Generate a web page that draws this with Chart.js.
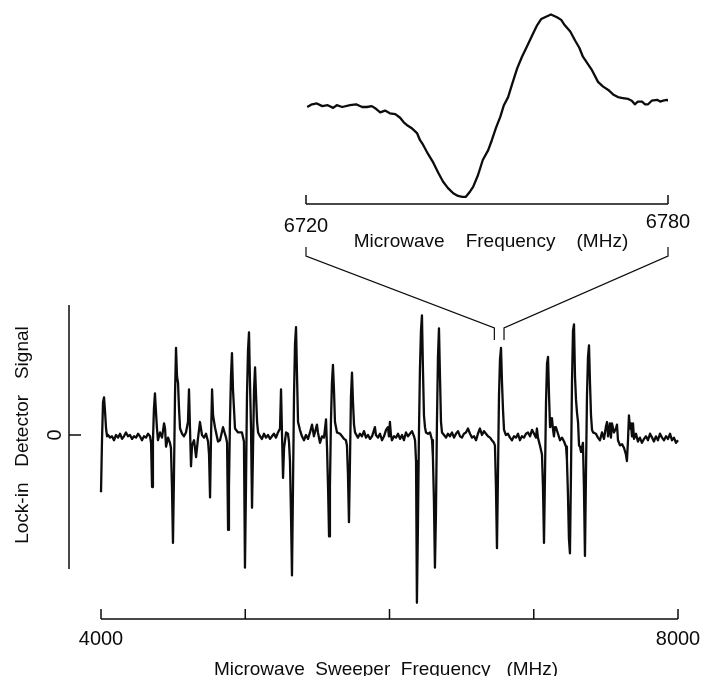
<!DOCTYPE html>
<html lang="en">
<head>
  <meta charset="UTF-8" />
  <title>Lock-in Detector Signal</title>
  <script src="https://cdn.jsdelivr.net/npm/chart.js"></script>
  <style>
    html, body { margin: 0; padding: 0; background: #fff; }
    #wrap { position: relative; width: 701px; height: 676px; }
    #wrap canvas { position: absolute; left: 0; top: 0; }
  </style>
</head>
<body>
<div id="wrap">
  <canvas id="mainChart" width="701" height="676"></canvas>
  <canvas id="zoomChart" width="701" height="260"></canvas>
</div>

<script>
  // sweep 4000-8000 MHz (arbitrary units, 0 = baseline)
  const sweepFreq = [
    4000, 4007, 4014, 4021, 4028, 4035, 4042, 4049, 4062, 4076, 4090, 4104, 4118, 4132, 4146, 4159, 4173, 4187, 4201, 4215,
    4229, 4243, 4257, 4270, 4284, 4298, 4312, 4326, 4340,
    4347, 4354, 4360, 4367, 4374, 4381, 4388, 4395, 4409, 4423, 4437, 4444, 4451, 4465, 4478,
    4485, 4492, 4499, 4506, 4513, 4520, 4527, 4534, 4541, 4548, 4562, 4575, 4589,
    4603, 4610, 4617, 4624, 4631, 4645, 4659, 4672, 4686, 4700, 4714, 4728, 4742,
    4749, 4756, 4763, 4770, 4777, 4790, 4811, 4825, 4846, 4867, 4874,
    4881, 4887, 4894, 4901, 4908, 4915, 4929, 4950, 4977, 4991,
    4998, 5005, 5012, 5019, 5026, 5033, 5040,
    5047, 5054, 5061, 5068, 5075, 5082, 5089, 5102, 5116, 5130, 5144, 5158, 5172, 5185, 5199, 5213, 5227, 5241,
    5248, 5255, 5262, 5269, 5283, 5296, 5303,
    5310, 5317, 5324, 5331, 5338, 5345, 5352, 5359, 5366, 5379, 5393, 5407, 5421, 5435, 5449, 5463, 5476, 5497, 5504,
    5518, 5532, 5546, 5560,
    5567, 5574, 5581, 5587, 5594, 5601, 5608, 5615, 5622, 5636, 5657, 5671, 5685, 5698,
    5705, 5712, 5719, 5726, 5733, 5740, 5747, 5754, 5761, 5781, 5795, 5809, 5823, 5837, 5851, 5865, 5879, 5899, 5906,
    5920, 5934, 5948, 5962, 5976, 5989, 5996, 6003, 6010, 6017, 6031, 6045, 6059, 6073, 6087, 6100, 6114, 6128, 6142,
    6156, 6170, 6177,
    6184, 6190, 6197, 6204, 6211, 6218, 6225, 6232, 6239, 6246, 6253, 6267, 6281, 6295, 6301,
    6308, 6315, 6322, 6329, 6336, 6343, 6350, 6357, 6364, 6378, 6392, 6405, 6419, 6433, 6447, 6461, 6475, 6489, 6502,
    6516, 6530, 6544, 6558, 6572, 6586, 6600, 6613, 6627, 6641, 6655, 6669, 6683, 6697, 6710, 6724, 6731,
    6738, 6745, 6752, 6759, 6766, 6773, 6780, 6787, 6794, 6807, 6821, 6835, 6849, 6863, 6877, 6891, 6904, 6918, 6932,
    6946, 6960, 6974, 6988, 7002, 7015, 7022, 7029, 7043, 7057,
    7064, 7071, 7078, 7085, 7092, 7099, 7106, 7113, 7120, 7126, 7133, 7140, 7147, 7154, 7168, 7182, 7196, 7210, 7224, 7230,
    7237, 7244, 7251, 7258, 7265, 7272, 7279, 7286, 7293, 7300, 7307, 7314, 7321, 7328, 7334, 7341,
    7348, 7355, 7362, 7369, 7376, 7383, 7390, 7397, 7404, 7411, 7431, 7445, 7459, 7473, 7487, 7501, 7508, 7515, 7528,
    7535, 7542, 7556, 7570, 7577, 7584, 7598, 7612, 7626, 7639, 7646, 7653, 7660, 7667, 7674, 7681, 7688, 7695, 7709,
    7722, 7736, 7750, 7764, 7778, 7792, 7806, 7820, 7833, 7847, 7861, 7875, 7889, 7903, 7917, 7931, 7945, 7958, 7972,
    7986, 8000, 8010
  ];
  const sweepSignal = [
    -0.44, -0.04, 0.25, 0.29, 0.18, 0.05, -0.01, 0.00, -0.02, -0.01, -0.04, 0.00, -0.02, 0.01, -0.03, -0.01, 0.02, -0.01, 0.00, -0.03,
    -0.01, -0.02, 0.01, -0.01, -0.04, -0.01, -0.02, 0.01, -0.01,
    -0.06, -0.40, -0.05, 0.20, 0.32, 0.18, 0.05, -0.04, 0.02, -0.02, 0.09, 0.05, -0.09, -0.02, -0.06,
    -0.10, -0.40, -0.83, -0.30, 0.30, 0.67, 0.45, 0.40, 0.20, 0.05, 0.01, -0.01, 0.02,
    0.10, 0.35, 0.05, -0.24, -0.08, -0.04, -0.17, -0.03, 0.10, 0.00, -0.02, 0.01, -0.05,
    -0.15, -0.48, 0.00, 0.35, 0.15, 0.06, -0.05, -0.04, 0.06, -0.02, -0.06,
    -0.73, -0.40, 0.10, 0.45, 0.63, 0.35, 0.05, 0.02, 0.02, -0.05,
    -1.02, -0.40, 0.30, 0.65, 0.79, 0.40, 0.05,
    -0.56, -0.10, 0.35, 0.52, 0.30, 0.10, 0.02, -0.01, -0.03, 0.01, -0.02, 0.00, -0.03, -0.01, 0.01, -0.02, 0.02, 0.05,
    0.35, 0.00, -0.33, -0.10, 0.02, 0.01, -0.05,
    -0.20, -0.60, -1.08, -0.40, 0.30, 0.70, 0.83, 0.45, 0.10, 0.04, -0.01, -0.04, 0.00, -0.03, 0.02, 0.08, -0.01, 0.08, 0.02,
    -0.06, -0.01, -0.02, 0.12,
    -0.10, -0.40, -0.78, -0.40, 0.10, 0.40, 0.54, 0.35, 0.10, 0.02, 0.01, -0.01, -0.03, -0.04,
    -0.08, -0.30, -0.67, -0.20, 0.30, 0.48, 0.25, 0.08, 0.02, -0.02, 0.01, -0.01, 0.03, -0.02, 0.00, -0.03, -0.01, 0.06, 0.00,
    -0.02, 0.01, -0.04, -0.01, 0.04, 0.06, -0.01, 0.10, 0.00, -0.04, -0.01, -0.02, 0.01, -0.03, 0.00, -0.04, 0.02, -0.01, 0.01,
    0.03, -0.01, -0.04,
    -0.20, -1.29, -0.70, 0.00, 0.50, 0.80, 0.92, 0.50, 0.15, 0.06, 0.02, 0.01, 0.02, -0.04, -0.17,
    -0.50, -1.02, -0.60, 0.10, 0.60, 0.82, 0.45, 0.10, 0.02, 0.00, -0.02, 0.01, -0.01, 0.02, -0.02, 0.01, 0.03, -0.01, -0.02,
    0.01, 0.02, 0.05, 0.01, -0.02, -0.01, -0.04, 0.01, 0.05, 0.00, 0.03, 0.01, -0.01, -0.02, -0.04, -0.06, -0.08,
    -0.40, -0.87, -0.30, 0.30, 0.58, 0.67, 0.40, 0.19, 0.04, 0.00, 0.01, -0.02, -0.04, -0.01, -0.02, 0.01, -0.04, -0.01, -0.02,
    0.01, 0.02, -0.01, 0.04, 0.01, -0.02, 0.05, -0.02, -0.08, -0.15,
    -0.40, -0.83, -0.30, 0.25, 0.55, 0.60, 0.30, 0.06, 0.08, 0.13, 0.05, -0.01, 0.06, 0.06, 0.01, -0.04, -0.02, -0.05, -0.09, -0.19,
    -0.45, -0.80, -0.91, -0.30, 0.40, 0.80, 0.85, 0.45, 0.27, 0.17, 0.10, -0.08, -0.09, -0.13, -0.10, -0.06,
    -0.40, -0.93, -0.30, 0.30, 0.60, 0.69, 0.40, 0.15, 0.04, 0.02, 0.01, -0.02, -0.04, 0.02, -0.03, 0.07, 0.10, -0.01, 0.09,
    -0.02, 0.09, 0.02, 0.05, 0.08, -0.04, -0.08, -0.07, -0.10, -0.15, -0.20, -0.05, 0.15, 0.05, 0.09, -0.01, 0.09, -0.03, 0.01,
    -0.05, -0.02, -0.06, -0.03, -0.01, -0.04, 0.01, -0.02, -0.05, -0.01, -0.04, 0.01, -0.02, -0.04, -0.01, -0.03, 0.01, -0.04, -0.02,
    -0.06, -0.04, -0.09
  ];

  // expanded view 6720-6780 MHz
  const zoomFreq = [
    6720.2, 6721.0, 6721.8, 6722.7, 6723.6, 6724.5, 6725.1, 6726.0, 6727.3, 6728.3, 6729.3, 6730.1, 6730.9, 6731.6, 6732.3,
    6733.1, 6733.9, 6734.8, 6735.6, 6736.2, 6736.7, 6737.6, 6738.4, 6738.9, 6739.4, 6740.2, 6741.1, 6741.9, 6742.7, 6743.5,
    6744.4, 6745.2, 6745.9, 6746.5, 6747.2, 6747.7, 6748.5, 6749.3, 6750.2, 6750.8, 6751.5, 6752.2, 6752.8, 6753.5, 6754.1,
    6755.0, 6755.8, 6756.6, 6757.5, 6758.3, 6759.0, 6759.6, 6760.6, 6761.6, 6762.3, 6762.9, 6763.8, 6764.6, 6765.3, 6765.9,
    6766.7, 6767.4, 6768.4, 6769.2, 6770.1, 6770.9, 6771.7, 6772.5, 6773.4, 6774.0, 6774.5, 6775.0, 6775.7, 6776.2, 6776.7,
    6777.3, 6778.2, 6778.7, 6779.2, 6779.8, 6780.3
  ];
  const zoomSignal = [
    0.00, 0.03, 0.04, 0.01, 0.02, -0.01, 0.02, 0.00, 0.02, 0.03, 0.00, 0.00, 0.01, -0.02, -0.06,
    -0.04, -0.07, -0.08, -0.12, -0.17, -0.20, -0.24, -0.29, -0.37, -0.42, -0.52, -0.62, -0.73, -0.83, -0.90,
    -0.96, -0.99, -1.00, -1.00, -0.94, -0.89, -0.76, -0.59, -0.48, -0.37, -0.23, -0.11, 0.02, 0.11, 0.24,
    0.43, 0.56, 0.67, 0.80, 0.91, 0.98, 1.00, 1.03, 1.00, 0.97, 0.91, 0.84, 0.74, 0.66, 0.56,
    0.48, 0.41, 0.28, 0.23, 0.19, 0.14, 0.11, 0.10, 0.09, 0.07, 0.03, 0.06, 0.06, 0.03, 0.03,
    0.07, 0.08, 0.06, 0.07, 0.08, 0.06
  ];

  const sweepTicks = [4000, 5000, 6000, 7000, 8000];
  const sweepTickLabels = ['4000', '', '', '', '8000'];
  const zoomTicks = [6720, 6780];
  const zoomTickLabels = ['6720', '6780'];
  const signalTicks = [0];
  const signalTickLabels = ['0'];
  const signalAxisRange = [-1.03, 1.0];

  const INK = '#0c0c0c';
  const FONT = '"Liberation Sans", Arial, sans-serif';

  function toPoints(xs, ys) {
    return xs.map((x, i) => ({ x: x, y: ys[i] }));
  }

  // expanded spectrum (top right)
  const zoomAxes = {
    id: 'zoomAxes',
    afterDraw(chart) {
      const { ctx, chartArea, scales } = chart;
      const x = scales.x;
      const yb = chartArea.bottom;
      ctx.save();
      ctx.strokeStyle = INK;
      ctx.lineWidth = 1.5;
      ctx.beginPath();
      ctx.moveTo(x.getPixelForValue(zoomTicks[0]), yb);
      ctx.lineTo(x.getPixelForValue(zoomTicks[zoomTicks.length - 1]), yb);
      zoomTicks.forEach(t => {
        const px = x.getPixelForValue(t);
        ctx.moveTo(px, yb);
        ctx.lineTo(px, yb - 9);
      });
      ctx.stroke();

      ctx.fillStyle = INK;
      ctx.font = '20px ' + FONT;
      ctx.textAlign = 'center';
      ctx.textBaseline = 'middle';
      ctx.fillText(zoomTickLabels[0], x.getPixelForValue(zoomTicks[0]), yb + 22);
      ctx.fillText(zoomTickLabels[1], x.getPixelForValue(zoomTicks[1]), yb + 18);
      ctx.font = '19px ' + FONT;
      ctx.fillText('Microwave    Frequency    (MHz)', 491, yb + 38);
      ctx.restore();
    }
  };

  const zoomChart = new Chart(document.getElementById('zoomChart'), {
    type: 'line',
    data: {
      datasets: [{
        data: toPoints(zoomFreq, zoomSignal),
        borderColor: INK,
        borderWidth: 2.3,
        pointRadius: 0,
        tension: 0,
        borderJoinStyle: 'round'
      }]
    },
    options: {
      responsive: false,
      animation: false,
      layout: { padding: { left: 306, right: 33, top: 10, bottom: 56 } },
      plugins: { legend: { display: false }, tooltip: { enabled: false } },
      scales: {
        x: { type: 'linear', min: 6720, max: 6780, display: false },
        y: { min: -1.08, max: 1.08, display: false }
      }
    },
    plugins: [zoomAxes]
  });

  // full sweep: detached axes, labels and the lines joining the expanded view
  const sweepAxes = {
    id: 'sweepAxes',
    afterDraw(chart) {
      const { ctx, chartArea, scales } = chart;
      const x = scales.x, y = scales.y;
      const yb = chartArea.bottom;
      const axisX = chartArea.left - 32;
      ctx.save();
      ctx.strokeStyle = INK;
      ctx.fillStyle = INK;
      ctx.lineWidth = 1.5;

      // x axis with upward ticks
      ctx.beginPath();
      ctx.moveTo(x.getPixelForValue(sweepTicks[0]), yb);
      ctx.lineTo(x.getPixelForValue(sweepTicks[sweepTicks.length - 1]), yb);
      sweepTicks.forEach(t => {
        const px = x.getPixelForValue(t);
        ctx.moveTo(px, yb);
        ctx.lineTo(px, yb - 10);
      });
      // y axis with the zero tick
      ctx.moveTo(axisX, y.getPixelForValue(signalAxisRange[1]));
      ctx.lineTo(axisX, y.getPixelForValue(signalAxisRange[0]));
      signalTicks.forEach(t => {
        const py = y.getPixelForValue(t);
        ctx.moveTo(axisX, py);
        ctx.lineTo(axisX + 12, py);
      });
      ctx.stroke();

      ctx.font = '20px ' + FONT;
      ctx.textAlign = 'center';
      ctx.textBaseline = 'middle';
      sweepTicks.forEach((t, i) => {
        if (sweepTickLabels[i]) ctx.fillText(sweepTickLabels[i], x.getPixelForValue(t), yb + 20);
      });
      ctx.font = '19px ' + FONT;
      ctx.fillText('Microwave  Sweeper  Frequency   (MHz)', 386, yb + 51);

      const y0 = y.getPixelForValue(0);
      ctx.save();
      ctx.translate(axisX - 14, y0);
      ctx.rotate(-Math.PI / 2);
      ctx.font = '20px ' + FONT;
      signalTicks.forEach((t, i) => ctx.fillText(signalTickLabels[i], y0 - y.getPixelForValue(t), 0));
      ctx.restore();

      ctx.save();
      ctx.translate(23, y0);
      ctx.rotate(-Math.PI / 2);
      ctx.font = '19px ' + FONT;
      ctx.fillText('Lock-in   Detector   Signal', 0, 0);
      ctx.restore();

      // brackets from the expanded axis down to the line near 6750 MHz
      const zx = zoomChart.scales.x;
      const ends = [
        [zx.getPixelForValue(zoomTicks[0]), x.getPixelForValue(zoomTicks[0]) + 1],
        [zx.getPixelForValue(zoomTicks[1]), x.getPixelForValue(zoomTicks[1]) + 2]
      ];
      ctx.lineWidth = 1.2;
      ctx.beginPath();
      ends.forEach(([top, bottom]) => {
        ctx.moveTo(top, 247);
        ctx.lineTo(top, 256);
        ctx.lineTo(bottom, 328);
        ctx.lineTo(bottom, 340);
      });
      ctx.stroke();
      ctx.restore();
    }
  };

  new Chart(document.getElementById('mainChart'), {
    type: 'line',
    data: {
      datasets: [{
        data: toPoints(sweepFreq, sweepSignal),
        borderColor: INK,
        borderWidth: 2.3,
        pointRadius: 0,
        tension: 0,
        borderJoinStyle: 'round',
        clip: false
      }]
    },
    options: {
      responsive: false,
      animation: false,
      layout: { padding: { left: 101, right: 23, top: 305, bottom: 57 } },
      plugins: { legend: { display: false }, tooltip: { enabled: false } },
      scales: {
        x: { type: 'linear', min: 4000, max: 8000, display: false },
        y: { min: -1.415, max: 1.0, display: false }
      }
    },
    plugins: [sweepAxes]
  });
</script>
</body>
</html>
